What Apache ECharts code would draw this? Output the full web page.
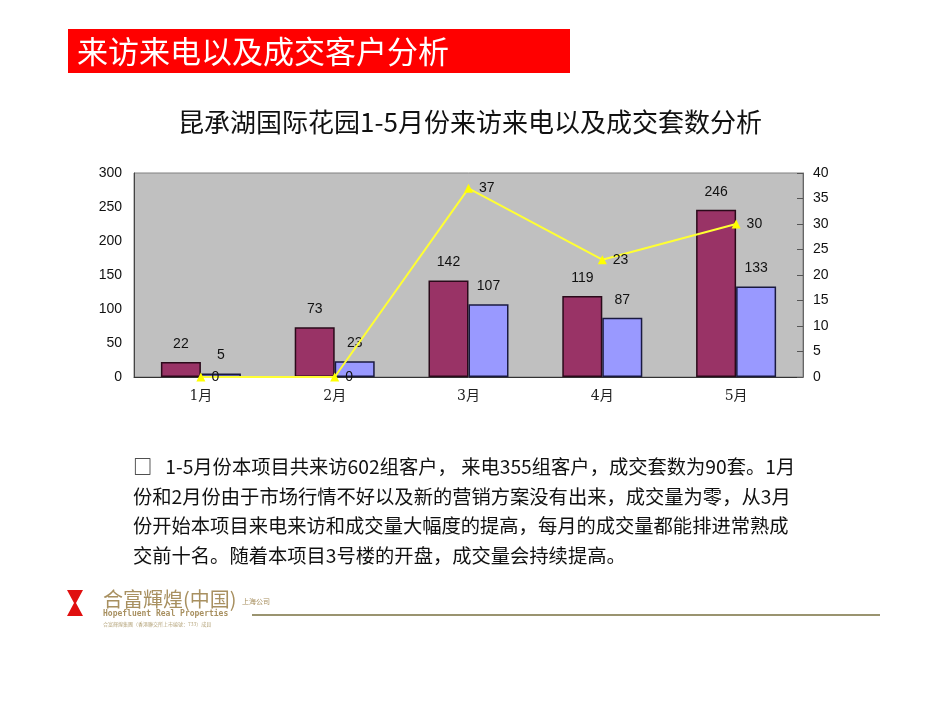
<!DOCTYPE html>
<html><head><meta charset="utf-8">
<script src="https://cdn.jsdelivr.net/npm/echarts@6/dist/echarts.min.js"></script>
<style>html,body{margin:0;padding:0;background:#fff}#c{width:950px;height:713px}</style>
</head><body><div id="c"></div>
<script>
const categories = ['1月','2月','3月','4月','5月'];
const visits = [22, 73, 142, 119, 246];
const calls = [5, 23, 107, 87, 133];
const deals = [0, 0, 37, 23, 30];
const leftTicks = [0, 300, 50];
const rightTicks = [0, 40, 5];
const paragraph = [
  '□   1-5月份本项目共来访602组客户， 来电355组客户，成交套数为90套。1月',
  '份和2月份由于市场行情不好以及新的营销方案没有出来，成交量为零，从3月',
  '份开始本项目来电来访和成交量大幅度的提高，每月的成交量都能排进常熟成',
  '交前十名。随着本项目3号楼的开盘，成交量会持续提高。'
];

const chart = echarts.init(document.getElementById('c'));
const sans = 'Liberation Sans, Arial, Noto Sans CJK SC, sans-serif';
const cjk = 'Noto Sans CJK SC, sans-serif';
chart.setOption({
  backgroundColor: '#ffffff',
  animation: false,
  title: {
    text: '昆承湖国际花园1-5月份来访来电以及成交套数分析',
    left: 465, top: 104, textAlign: 'center',
    textStyle: { fontFamily: cjk, fontSize: 26, fontWeight: 'normal', color: '#111' }
  },
  grid: { left: 134, right: 147, top: 173, bottom: 336, show: true, backgroundColor: '#c0c0c0', borderColor: '#808080', borderWidth: 1 },
  xAxis: {
    type: 'category', data: categories,
    axisLine: { lineStyle: { color: '#333', width: 1 } },
    axisTick: { inside: true, length: 5, lineStyle: { color: '#555' } },
    axisLabel: { fontFamily: 'DejaVu Serif, Noto Sans CJK SC, serif', fontSize: 14, color: '#222', margin: 12 }
  },
  yAxis: [
    { type: 'value', min: leftTicks[0], max: leftTicks[1], interval: leftTicks[2],
      axisLine: { show: true, lineStyle: { color: '#444' } }, axisTick: { show: false },
      splitLine: { show: false },
      axisLabel: { fontFamily: sans, fontSize: 14, color: '#111', margin: 12 } },
    { type: 'value', min: rightTicks[0], max: rightTicks[1], interval: rightTicks[2], position: 'right',
      axisLine: { show: true, lineStyle: { color: '#666' } },
      axisTick: { show: true, inside: true, length: 6, lineStyle: { color: '#555' } },
      splitLine: { show: false },
      axisLabel: { fontFamily: sans, fontSize: 14, color: '#111', margin: 10 } }
  ],
  series: [
    { type: 'bar', data: visits, barWidth: 40, barGap: '0%',
      itemStyle: { color: '#993366', borderColor: '#2a0a1a', borderWidth: 1.5 },
      label: { show: true, position: 'top', distance: 11, fontFamily: sans, fontSize: 14, color: '#111' } },
    { type: 'bar', data: calls, barWidth: 40,
      itemStyle: { color: '#9999ff', borderColor: '#1a1a40', borderWidth: 1.5 },
      label: { show: true, position: 'top', distance: 11, fontFamily: sans, fontSize: 14, color: '#111' } },
    { type: 'line', data: deals, yAxisIndex: 1, symbol: 'triangle', symbolSize: 9,
      lineStyle: { color: '#ffff33', width: 2 }, itemStyle: { color: '#ffff00' },
      label: { show: true, position: 'right', distance: 6, fontFamily: sans, fontSize: 14, color: '#111' } }
  ],
  graphic: [
    { type: 'rect', shape: { x: 68, y: 29, width: 502, height: 44 }, style: { fill: '#ff0000' } },
    { type: 'text', x: 77, y: 51, style: { text: '来访来电以及成交客户分析', fill: '#fff', font: '31px Noto Sans CJK SC', textVerticalAlign: 'middle' } },
    ...paragraph.map((t, i) => ({ type: 'text', x: 133, y: 467 + i * 29.5,
      style: { text: t, fill: '#111', font: '19.3px Noto Sans CJK SC', textVerticalAlign: 'middle' } })),
    { type: 'polygon', shape: { points: [[67,590],[83,590],[76,603],[83,616],[67,616],[74,603]] }, style: { fill: '#e01010' } },
    { type: 'text', x: 103, y: 599, style: { text: '合富輝煌(中国)', fill: '#a89060', font: '20px Noto Sans CJK SC', textVerticalAlign: 'middle' } },
    { type: 'text', x: 242, y: 601, style: { text: '上海公司', fill: '#a89060', font: '7px Noto Sans CJK SC', textVerticalAlign: 'middle' } },
    { type: 'text', x: 103, y: 614, style: { text: 'Hopefluent Real Properties', fill: '#a89060', font: 'bold 8px DejaVu Sans Mono', textVerticalAlign: 'middle' } },
    { type: 'text', x: 103, y: 624, style: { text: '合富輝煌集團（香港聯交所上市編號：733）成員', fill: '#b8a880', font: '5px Noto Sans CJK SC', textVerticalAlign: 'middle' } },
    { type: 'line', shape: { x1: 252, y1: 615, x2: 880, y2: 615 }, style: { stroke: '#9a9470', lineWidth: 2 } }
  ]
});
</script></body></html>
